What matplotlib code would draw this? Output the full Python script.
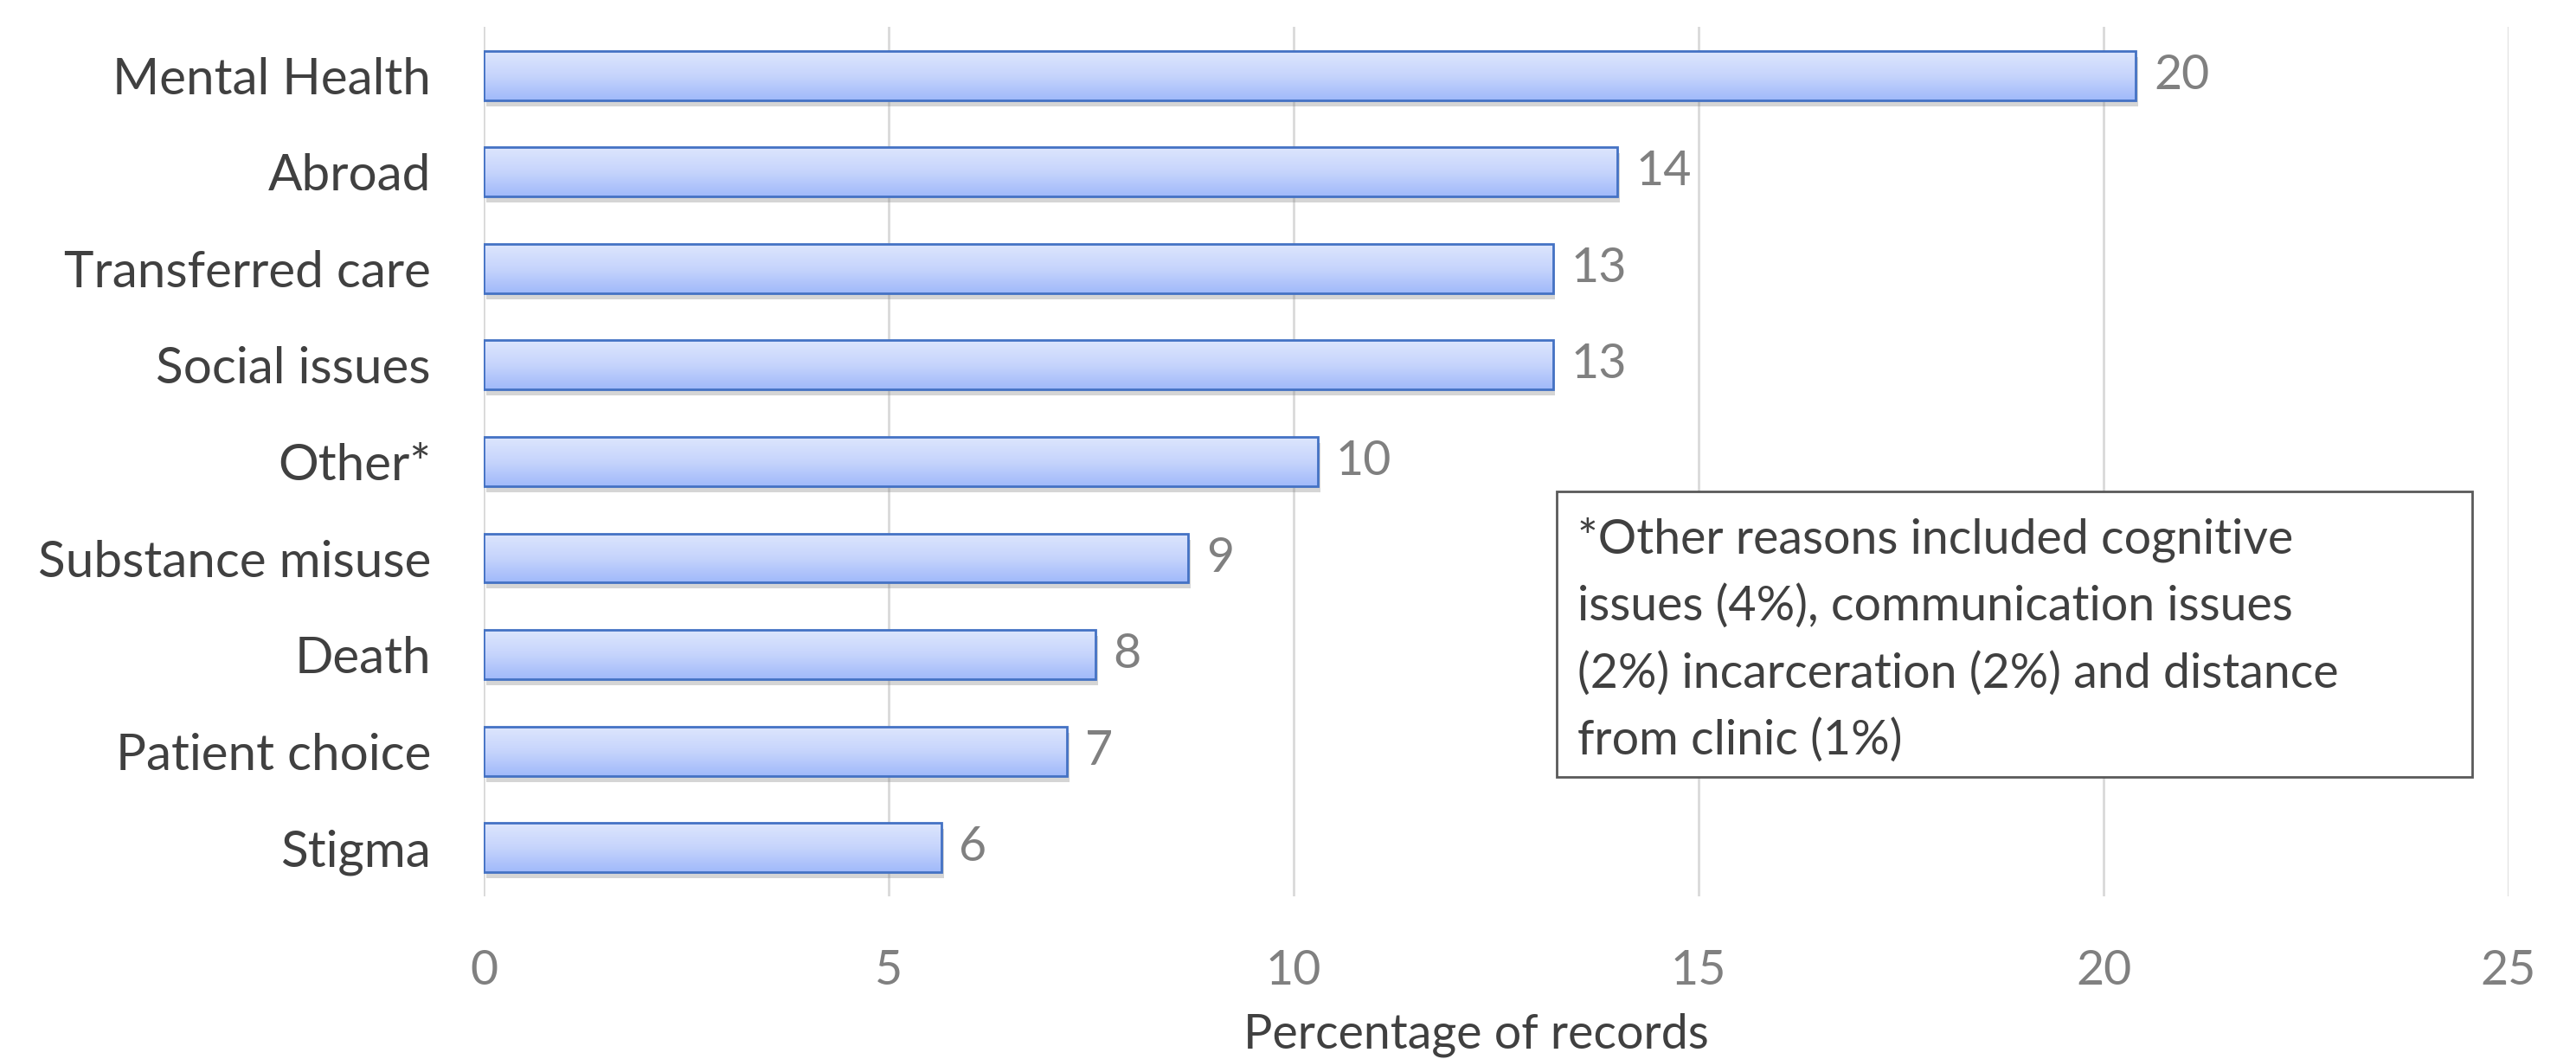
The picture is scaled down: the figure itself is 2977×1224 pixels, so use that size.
import matplotlib
matplotlib.use('Agg')
import numpy as np
import matplotlib.pyplot as plt
import matplotlib.patheffects as pe
from matplotlib.patches import Rectangle

# data, top to bottom as in the chart
categories = ['Mental Health', 'Abroad', 'Transferred care', 'Social issues', 'Other*',
              'Substance misuse', 'Death', 'Patient choice', 'Stigma']
values = [20.4, 14.0, 13.2, 13.2, 10.3, 8.7, 7.55, 7.2, 5.65]
value_labels = ['20', '14', '13', '13', '10', '9', '8', '7', '6']
xticks = [0, 5, 10, 15, 20, 25]
note = ('*Other reasons included cognitive\n'
        'issues (4%), communication issues\n'
        '(2%) incarceration (2%) and distance\n'
        'from clinic (1%)')

plt.rcParams['font.family'] = ['Lato', 'DejaVu Sans']
fs = 40

fig = plt.figure(figsize=(29.77, 12.24), dpi=100)
ax = fig.add_axes([0.1878, 0.154, 0.9738 - 0.1878, 0.9743 - 0.154])

y = np.arange(len(categories))
h = 0.51

# base bars with soft shadow
bars = ax.barh(y, values, height=h, color='#a0b9fa', edgecolor='none', zorder=2,
               path_effects=[pe.SimplePatchShadow(offset=(2, -5), shadow_rgbFace='#888888', alpha=0.35),
                             pe.Normal()])

# vertical gradient fill clipped to each bar
grad = np.linspace(0, 1, 256).reshape(-1, 1)
cmap = matplotlib.colors.LinearSegmentedColormap.from_list('g', ['#dde6fd', '#c6d4fc', '#a0b9fa'])
for b in bars:
    x0, y0 = b.get_x(), b.get_y()
    w, hh = b.get_width(), b.get_height()
    im = ax.imshow(grad, extent=[x0, x0 + w, y0 + hh, y0], aspect='auto', cmap=cmap,
                   zorder=3, interpolation='bicubic')
    im.set_clip_path(b)

ax.barh(y, values, height=h, fill=False, edgecolor='#4472c4', linewidth=2, zorder=4)

for yi, v, lab in zip(y, values, value_labels):
    ax.text(v + 0.22, yi, lab, va='center', ha='left', fontsize=fs, color='#808080', zorder=5)

ax.set_xlim(0, 25)
ax.set_ylim(len(categories) - 0.5, -0.5)
ax.set_xticks(xticks)
ax.set_yticks(y)
ax.set_yticklabels(categories, fontsize=42, color='#404040')
ax.tick_params(axis='x', labelsize=fs, labelcolor='#808080', length=0, pad=44)
ax.tick_params(axis='y', length=0, pad=44)
ax.xaxis.grid(True, color='#d9d9d9', linewidth=2, zorder=0)
ax.set_axisbelow(True)
for s in ax.spines.values():
    s.set_visible(False)

ax.set_xlabel('Percentage of records', fontsize=fs, color='#404040')
ax.xaxis.set_label_coords(0.49, -0.186)
ax.xaxis.label.set_va('bottom')

# footnote text box
box = Rectangle((0.530, 0.137), 0.982 - 0.530, 0.4656 - 0.137, transform=ax.transAxes,
                facecolor='white', edgecolor='#595959', linewidth=2, zorder=6)
ax.add_patch(box)
ax.text(0.540, 0.2948, note, transform=ax.transAxes, ha='left', va='center',
        fontsize=fs, color='#404040', linespacing=1.6, zorder=7)

plt.savefig('out.png', dpi=100)
plt.close()
